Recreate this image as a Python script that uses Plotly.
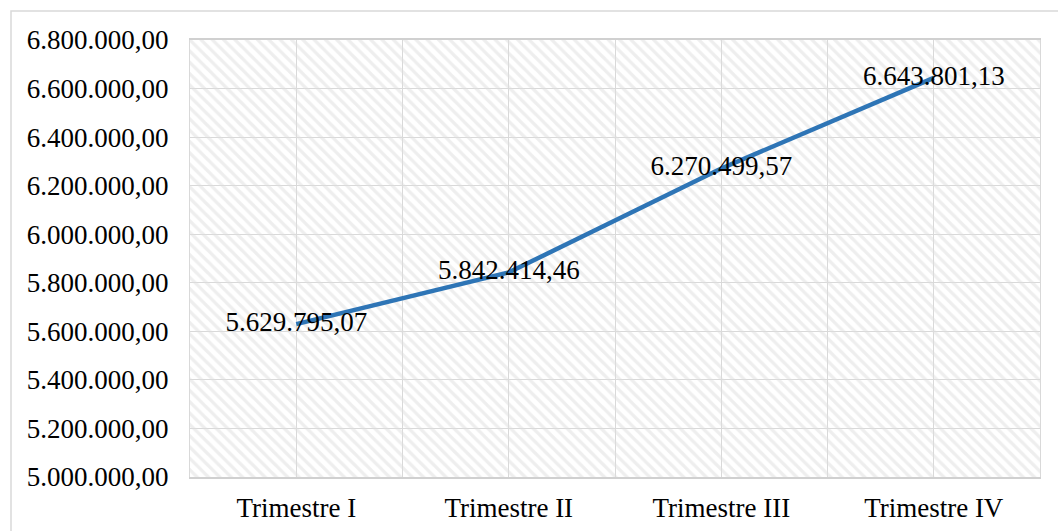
import plotly.graph_objects as go

# Quarterly values
categories = ["Trimestre I", "Trimestre II", "Trimestre III", "Trimestre IV"]
values = [5629795.07, 5842414.46, 6270499.57, 6643801.13]

# Value axis
y_min, y_max, y_step = 5000000, 6800000, 200000

FONT = "Liberation Serif"
GRID = "#d9d9d9"
SIZE = 27

x_pos = list(range(len(categories)))
x_lo, x_hi = x_pos[0] - 0.5, x_pos[-1] + 0.5

fig = go.Figure()

# Hatched plot-area background
fig.add_trace(go.Scatter(
    x=[x_lo, x_hi, x_hi, x_lo, x_lo],
    y=[y_min, y_min, y_max, y_max, y_min],
    mode="lines",
    line=dict(width=0),
    fill="toself",
    fillcolor="rgba(0,0,0,0)",
    fillpattern=dict(shape="\\", fgcolor="#dedede", bgcolor="rgba(0,0,0,0)",
                     size=8, solidity=0.4),
    hoverinfo="skip",
    showlegend=False,
))

# Series line with value labels centred on each point
fig.add_trace(go.Scatter(
    x=x_pos,
    y=values,
    mode="lines+text",
    line=dict(color="#2E75B6", width=4.5),
    texttemplate="%{y:,.2f}",
    textposition="middle center",
    textfont=dict(family=FONT, size=SIZE, color="#000000"),
    showlegend=False,
))

fig.update_layout(
    width=1058,
    height=531,
    margin=dict(l=190, r=18, t=40, b=54),
    paper_bgcolor="white",
    plot_bgcolor="white",
    separators=",.",
    font=dict(family=FONT, size=SIZE, color="#000000"),
    shapes=[
        # chart frame
        dict(type="rect", xref="paper", yref="paper",
             x0=-179 / 850, x1=1.05, y0=-0.2, y1=1 + 29 / 437,
             line=dict(color="#d9d9d9", width=1.5), fillcolor="rgba(0,0,0,0)",
             layer="below"),
    ],
)

fig.update_xaxes(
    range=[x_lo, x_hi],
    tickvals=x_pos,
    ticktext=categories,
    showgrid=True,
    gridcolor=GRID,
    gridwidth=1,
    minor=dict(tickvals=[p + 0.5 for p in [x_lo - 0.5] + x_pos], showgrid=True,
               gridcolor=GRID, gridwidth=1),
    showline=True,
    linecolor="#d0d0d0",
    linewidth=1.5,
    mirror=True,
    ticks="",
    ticklabelstandoff=6,
    zeroline=False,
    automargin=False,
    tickfont=dict(family=FONT, size=SIZE, color="#000000"),
)

fig.update_yaxes(
    range=[y_min, y_max],
    dtick=y_step,
    tick0=y_min,
    tickformat=",.2f",
    showgrid=True,
    gridcolor=GRID,
    gridwidth=1,
    showline=True,
    linecolor="#d9d9d9",
    linewidth=1,
    mirror=True,
    ticks="",
    ticklabelstandoff=15,
    zeroline=False,
    automargin=False,
    tickfont=dict(family=FONT, size=SIZE, color="#000000"),
)

fig.write_html("out.html")
